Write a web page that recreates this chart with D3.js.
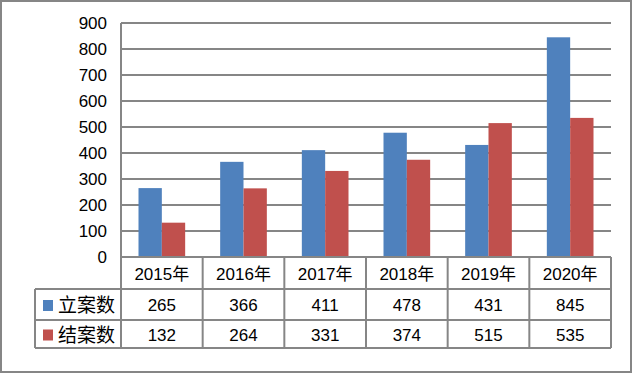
<!DOCTYPE html>
<html>
<head>
<meta charset="utf-8">
<script src="https://cdn.jsdelivr.net/npm/d3@7"></script>
<style>
  body { margin: 0; background: #fff; }
  text { font-family: "Liberation Sans", "Noto Sans CJK SC", sans-serif; fill: #000; }
</style>
</head>
<body>
<script>
// data
const years = ["2015年", "2016年", "2017年", "2018年", "2019年", "2020年"];
const filed = [265, 366, 411, 478, 431, 845];   // 立案数
const closed = [132, 264, 331, 374, 515, 535];  // 结案数
const seriesNames = ["立案数", "结案数"];
const seriesColors = ["#4F81BD", "#C0504D"];
const yTicks = [0, 100, 200, 300, 400, 500, 600, 700, 800, 900];

const width = 634, height = 374;
const plotLeft = 121, plotRight = 611, plotTop = 23, zeroY = 257;
const rowLines = [257, 289, 320, 348];
const tableLeft = 35;
const grey = "#868686";

const svg = d3.select("body").append("svg")
  .attr("width", width)
  .attr("height", height);

// outer frame
svg.append("rect")
  .attr("x", 1).attr("y", 1)
  .attr("width", 630).attr("height", 371)
  .attr("fill", "#fff")
  .attr("stroke", grey)
  .attr("stroke-width", 2);

const x = d3.scaleBand().domain(years).range([plotLeft, plotRight]);
const xs = d3.scaleBand().domain(seriesNames).range([0, x.bandwidth() * 2 / 3.5]);
const y = d3.scaleLinear().domain([0, 900]).range([zeroY, plotTop]);

// gridlines
svg.append("g").selectAll("line")
  .data(yTicks.slice(1))
  .join("line")
  .attr("x1", plotLeft).attr("x2", plotRight)
  .attr("y1", d => y(d)).attr("y2", d => y(d))
  .attr("stroke", grey).attr("stroke-width", 2);

// y axis labels
const yAxis = d3.axisLeft(y).tickValues(yTicks).tickSize(0).tickPadding(14);
const gy = svg.append("g")
  .attr("transform", `translate(${plotLeft},0)`)
  .call(yAxis);
gy.select(".domain").remove();
gy.selectAll("text")
  .style("font-size", "17px")
  .style("font-family", "Liberation Sans, sans-serif")
  .attr("fill", "#000");

// bars
const series = [filed, closed];
const offset = (x.bandwidth() - xs.range()[1]) / 2;
series.forEach((vals, i) => {
  svg.append("g").selectAll("rect")
    .data(vals)
    .join("rect")
    .attr("x", (d, j) => x(years[j]) + offset + xs(seriesNames[i]))
    .attr("y", d => y(d))
    .attr("width", xs.bandwidth())
    .attr("height", d => y(0) - y(d))
    .attr("fill", seriesColors[i]);
});

// data table
const tbl = svg.append("g");
const lineAttrs = sel => sel.attr("stroke", grey).attr("stroke-width", 2);

// axis line (vertical at left of plot, down to table bottom)
tbl.append("line").attr("x1", plotLeft).attr("x2", plotLeft)
  .attr("y1", plotTop).attr("y2", rowLines[3]).call(lineAttrs);
// horizontal lines
tbl.append("line").attr("x1", plotLeft).attr("x2", plotRight)
  .attr("y1", rowLines[0]).attr("y2", rowLines[0]).call(lineAttrs);
rowLines.slice(1).forEach(r => {
  tbl.append("line").attr("x1", tableLeft).attr("x2", plotRight)
    .attr("y1", r).attr("y2", r).call(lineAttrs);
});
// vertical lines
years.forEach(yr => {
  const xr = x(yr) + x.bandwidth();
  tbl.append("line").attr("x1", xr).attr("x2", xr)
    .attr("y1", rowLines[0]).attr("y2", rowLines[3]).call(lineAttrs);
});
tbl.append("line").attr("x1", tableLeft).attr("x2", tableLeft)
  .attr("y1", rowLines[1]).attr("y2", rowLines[3]).call(lineAttrs);

// header row
tbl.selectAll(".yr")
  .data(years)
  .join("text")
  .attr("class", "yr")
  .attr("x", d => x(d) + x.bandwidth() / 2)
  .attr("y", (rowLines[0] + rowLines[1]) / 2 + 1)
  .attr("text-anchor", "middle")
  .attr("dominant-baseline", "central")
  .style("font-size", "17px")
  .text(d => d);

// value rows
series.forEach((vals, i) => {
  const cy = (rowLines[i + 1] + rowLines[i + 2]) / 2 + 1;
  tbl.append("rect")
    .attr("x", 43).attr("y", cy - 5.5)
    .attr("width", 10).attr("height", 11)
    .attr("fill", seriesColors[i]);
  tbl.append("text")
    .attr("x", 58).attr("y", cy)
    .attr("dominant-baseline", "central")
    .style("font-size", "19px")
    .text(seriesNames[i]);
  tbl.append("g").selectAll("text")
    .data(vals)
    .join("text")
    .attr("x", (d, j) => x(years[j]) + x.bandwidth() / 2)
    .attr("y", cy)
    .attr("text-anchor", "middle")
    .attr("dominant-baseline", "central")
    .style("font-size", "17px")
    .text(d => d);
});
</script>
</body>
</html>
